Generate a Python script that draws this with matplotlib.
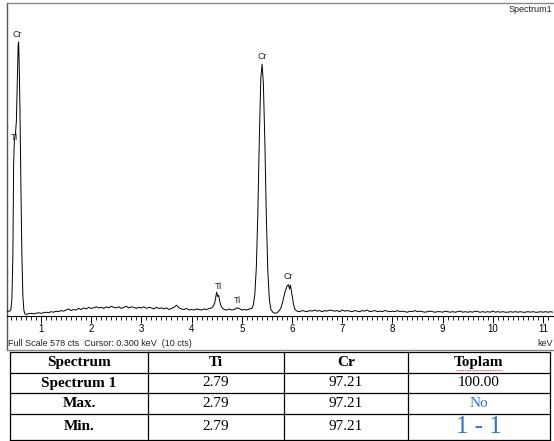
import numpy as np
import matplotlib
matplotlib.use('Agg')
import matplotlib.pyplot as plt

# --- spectrum data (keV, counts) ---
peak_l_kev = [0.32, 0.35, 0.38, 0.40, 0.42, 0.44, 0.455, 0.47, 0.49, 0.51, 0.53, 0.545, 0.555,
              0.565, 0.58, 0.60, 0.62, 0.64, 0.66, 0.68]
peak_l_cts = [8, 9, 9, 12, 30, 110, 280, 325, 335, 360, 440, 500, 506,
              470, 390, 240, 110, 35, 10, 4]

bg_a_cts = [3, 4, 5, 4, 5, 6, 5, 6, 7, 6, 8, 7, 9, 8, 10, 9, 11, 13, 10, 12,
            11, 14, 12, 15, 13, 16, 14, 15, 17, 15, 16, 14, 17, 15, 18, 16, 15, 17, 14, 16,
            18, 15, 17, 16, 14, 16, 15, 17, 14, 16, 15, 13, 16, 14, 15, 13, 15, 12, 14, 16,
            20, 15, 13, 12, 14, 11, 12, 11, 13, 12, 11, 13, 12, 14, 15]
bg_a_kev = np.round(np.arange(0.70, 4.401, 0.05), 2)

ti_ka_kev = [4.43, 4.46, 4.48, 4.50, 4.52, 4.54, 4.56, 4.58, 4.61]
ti_ka_cts = [18, 24, 34, 44, 36, 38, 28, 20, 15]

bg_b_cts = [12, 11, 13, 11, 12, 15, 14, 11, 12, 11, 13, 14]
bg_b_kev = np.round(np.arange(4.65, 5.201, 0.05), 2)

cr_k_kev = [5.23, 5.26, 5.29, 5.32, 5.35, 5.38, 5.405, 5.43, 5.46, 5.49, 5.52, 5.55, 5.58,
            5.62, 5.66, 5.70, 5.74, 5.78, 5.82, 5.86, 5.90, 5.93, 5.95, 5.97, 6.00, 6.03, 6.06]
cr_k_cts = [20, 40, 90, 190, 330, 440, 465, 430, 320, 180, 80, 30, 12,
            7, 5, 6, 9, 15, 28, 44, 55, 58, 50, 57, 40, 22, 12]

bg_c_cts = [9, 8, 10, 9, 8, 10, 9, 11, 9, 10, 8, 10, 9, 11, 10, 9, 10, 8, 11, 9,
            10, 9, 8, 10, 9, 8, 10, 9, 11, 8, 9, 10, 8, 9, 8, 10, 9, 8, 9, 8,
            10, 8, 9, 8, 7, 9, 8, 10, 8, 9, 8, 7, 8, 9, 8, 7, 8, 8, 7, 9,
            8, 7, 8, 7, 8, 9, 7, 8, 7, 8, 7, 9, 8, 7, 8, 7, 8, 7, 9, 7,
            8, 7, 8, 7, 7, 8, 7, 8, 7, 8, 7, 7, 8, 7, 8, 7, 7, 8, 7, 8,
            7, 8, 7]
bg_c_kev = np.round(np.arange(6.10, 11.201, 0.05), 2)

# peak labels: (text, keV, counts)
labels = [('Cr', 0.53, 512), ('Ti', 0.46, 322), ('Ti', 4.53, 47),
          ('Ti', 4.92, 20), ('Cr', 5.40, 470), ('Cr', 5.92, 64)]

full_scale = 578

# --- table ---
col_names = ['Spectrum', 'Ti', 'Cr', 'Toplam']
row_names = ['Spectrum 1', 'Max.', 'Min.']
ti_vals = ['2.79', '2.79', '2.79']
cr_vals = ['97.21', '97.21', '97.21']
toplam_vals = ['100.00', 'No', '1 - 1']

W, H = 554, 441
fig = plt.figure(figsize=(W / 100, H / 100), dpi=100)

sans = ['Liberation Sans Narrow', 'Liberation Sans', 'DejaVu Sans']
serif = ['Liberation Serif', 'DejaVu Serif']

# overlay in pixel coordinates
ov = fig.add_axes([0, 0, 1, 1])
ov.set_xlim(0, W)
ov.set_ylim(H, 0)
ov.axis('off')

# spectrum axes
x0, x1, y0, y1 = 7, 553, 3, 316
ax = fig.add_axes([x0 / W, 1 - y1 / H, (x1 - x0) / W, (y1 - y0) / H])
ax.patch.set_alpha(0)

kev = np.concatenate([peak_l_kev, bg_a_kev, ti_ka_kev, bg_b_kev, cr_k_kev, bg_c_kev])
cts = np.concatenate([peak_l_cts, bg_a_cts, ti_ka_cts, bg_b_cts, cr_k_cts, bg_c_cts])
order = np.argsort(kev)
ax.plot(kev[order], cts[order], color='black', lw=0.7)

for txt, xk, yc in labels:
    ax.text(xk, yc, txt, ha='center', va='bottom', fontsize=6.5, family=sans, color='#222222')

ax.set_xlim(0.323, 11.2)
ax.set_ylim(0, full_scale)
for s in ['top', 'left', 'right']:
    ax.spines[s].set_visible(False)
ax.spines['bottom'].set_linewidth(0.8)
ax.set_yticks([])
ax.set_xticks(range(1, 12))
ax.set_xticks(np.arange(0.4, 11.2, 0.1), minor=True)
ax.tick_params(axis='x', which='major', length=5, width=0.7, pad=1, labelsize=7)
ax.tick_params(axis='x', which='minor', length=3, width=0.6)
for lab in ax.get_xticklabels():
    lab.set_family(sans)

# outer frame
ov.plot([7, 7], [3, 350], color='#555555', lw=1)
ov.plot([7, 554], [3, 3], color='#888888', lw=1)
ov.plot([7, 554], [350, 350], color='#888888', lw=1)
ov.text(552, 10, 'Spectrum1', ha='right', va='center', fontsize=6.5, family=sans, color='#222222')
ov.text(8, 344, 'Full Scale 578 cts  Cursor: 0.300 keV  (10 cts)', ha='left', va='center',
        fontsize=6.5, family=sans, color='#222222')
ov.text(553, 343, 'keV', ha='right', va='center', fontsize=6.5, family=sans, color='#222222')

# table grid
xs = [10, 148, 284, 408, 550]
ys = [352, 373, 393, 414, 440]
for xv in xs:
    ov.plot([xv, xv], [ys[0], ys[-1]], color='black', lw=0.9)
for yv in ys:
    ov.plot([xs[0], xs[-1]], [yv, yv], color='black', lw=0.9)

cx = [(xs[i] + xs[i + 1]) / 2 for i in range(4)]
cy = [(ys[i] + ys[i + 1]) / 2 for i in range(4)]
for i, name in enumerate(col_names):
    ov.text(cx[i], cy[0], name, ha='center', va='center', fontsize=11, weight='bold', family=serif)
for r in range(3):
    ov.text(cx[0], cy[r + 1], row_names[r], ha='center', va='center', fontsize=11,
            weight='bold', family=serif)
    ov.text(cx[1], cy[r + 1], ti_vals[r], ha='center', va='center', fontsize=11, family=serif)
    ov.text(cx[2], cy[r + 1], cr_vals[r], ha='center', va='center', fontsize=11, family=serif)
toplam_style = [('black', 11), ('#2e75c8', 11), ('#2e75c8', 18)]
for r in range(3):
    col, fs = toplam_style[r]
    ov.text(cx[3], cy[r + 1], toplam_vals[r], ha='center', va='center', fontsize=fs,
            color=col, family=serif)
# spelling squiggle under "Toplam"
ov.plot([cx[3] - 23, cx[3] + 23], [370, 370], color='red', lw=0.6, ls=(0, (1, 1)))

fig.savefig('out.png', dpi=100)
